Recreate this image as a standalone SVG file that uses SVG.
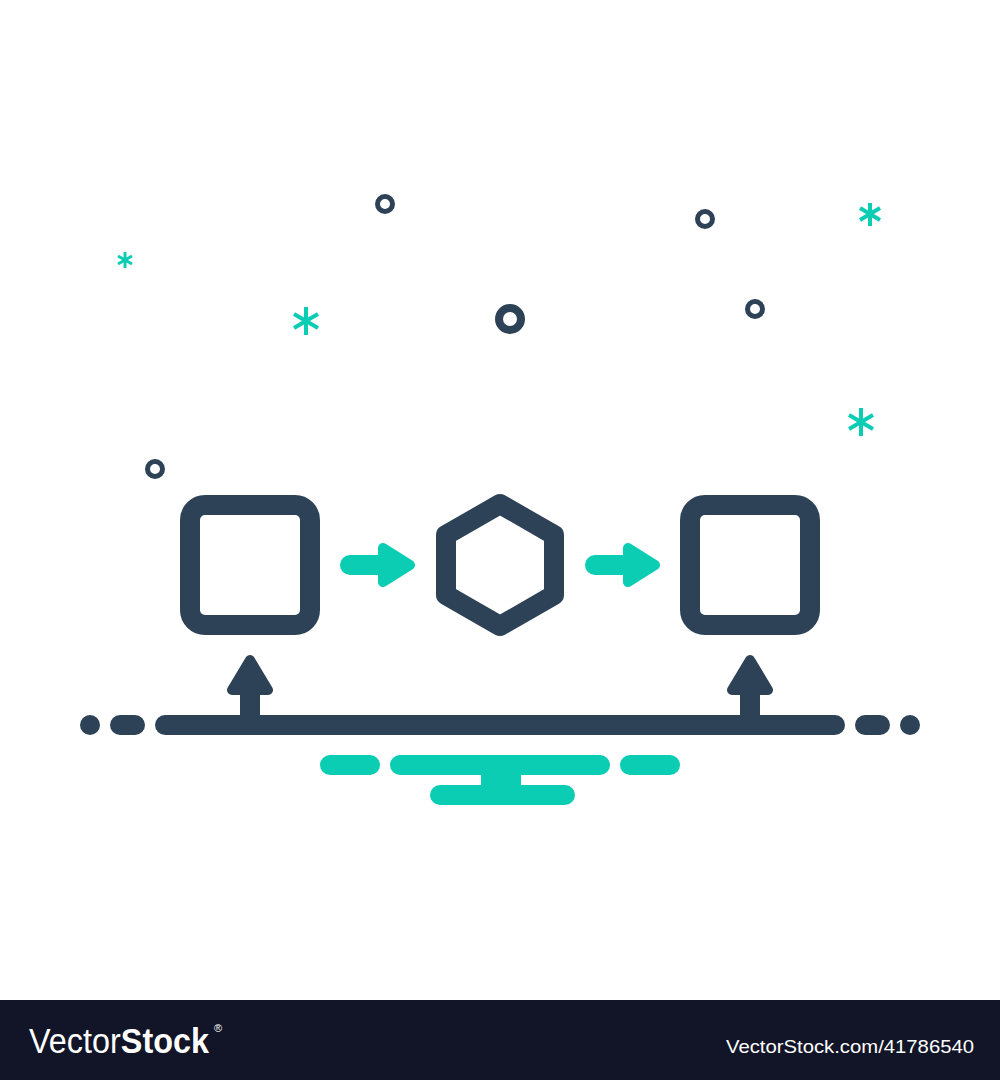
<svg xmlns="http://www.w3.org/2000/svg" width="1000" height="1080" viewBox="0 0 1000 1080">
  <style>
    .dk { fill: none; stroke: #2d4256; stroke-width: 20; stroke-linecap: round; stroke-linejoin: round; }
    .dkf { fill: #2d4256; stroke: #2d4256; stroke-width: 10; stroke-linejoin: round; }
    .tl { fill: none; stroke: #0bcdb3; stroke-width: 20; stroke-linecap: round; stroke-linejoin: round; }
    .tlf { fill: #0bcdb3; stroke: #0bcdb3; stroke-width: 10; stroke-linejoin: round; }
    .ring { fill: none; stroke: #2d4256; stroke-width: 5; }
    .ast { stroke: #0bcdb3; stroke-width: 4; stroke-linecap: butt; }
    .ft { font-family: "Liberation Sans", Arial, sans-serif; fill: #ffffff; }
  </style>
  <rect x="0" y="0" width="1000" height="1000" fill="#ffffff"/>

  <!-- decorations -->
  <g id="decor">
    <circle class="ring" cx="385" cy="204" r="7.5"/>
    <circle class="ring" cx="705" cy="219" r="7.5"/>
    <circle class="ring" cx="755" cy="309" r="7.5"/>
    <circle class="ring" cx="155" cy="469" r="7.5"/>
    <circle cx="510" cy="319" r="11" fill="none" stroke="#2d4256" stroke-width="8"/>
    <g class="ast">
      <line x1="125" y1="252" x2="125" y2="268" stroke-width="3"/>
      <line x1="118" y1="256" x2="132" y2="264" stroke-width="3"/>
      <line x1="118" y1="264" x2="132" y2="256" stroke-width="3"/>
      <line x1="306" y1="307" x2="306" y2="335"/>
      <line x1="294" y1="314" x2="318" y2="328"/>
      <line x1="294" y1="328" x2="318" y2="314"/>
      <line x1="870" y1="203" x2="870" y2="226"/>
      <line x1="860" y1="208" x2="880" y2="220"/>
      <line x1="860" y1="220" x2="880" y2="208"/>
      <line x1="861" y1="408" x2="861" y2="436"/>
      <line x1="849" y1="415" x2="873" y2="429"/>
      <line x1="849" y1="429" x2="873" y2="415"/>
    </g>
  </g>

  <!-- nodes -->
  <g id="node-square-left">
    <rect class="dk" x="190" y="505" width="120" height="120" rx="15"/>
  </g>
  <g id="node-hexagon">
    <polygon class="dk" points="500,504 554,535 554,595 500,626 446,595 446,535"/>
  </g>
  <g id="node-square-right">
    <rect class="dk" x="690" y="505" width="120" height="120" rx="15"/>
  </g>

  <!-- baseline -->
  <g id="baseline">
    <line class="dk" x1="90" y1="725" x2="90" y2="725"/>
    <line class="dk" x1="120" y1="725" x2="135" y2="725"/>
    <line class="dk" x1="165" y1="725" x2="835" y2="725"/>
    <line class="dk" x1="865" y1="725" x2="880" y2="725"/>
    <line class="dk" x1="910" y1="725" x2="910" y2="725"/>
  </g>

  <!-- base stand -->
  <g id="stand">
    <line class="tl" x1="330" y1="765" x2="370" y2="765"/>
    <line class="tl" x1="400" y1="765" x2="600" y2="765"/>
    <line class="tl" x1="630" y1="765" x2="670" y2="765"/>
    <rect x="481" y="770" width="40" height="20" fill="#0bcdb3"/>
    <line class="tl" x1="440" y1="795" x2="565" y2="795"/>
  </g>

  <!-- connectors -->
  <g id="connectors">
    <line class="tl" x1="350" y1="565" x2="390" y2="565"/>
    <polygon class="tlf" points="383,548 410,565 383,582"/>
    <line class="tl" x1="595" y1="565" x2="635" y2="565"/>
    <polygon class="tlf" points="628,548 655,565 628,582"/>
    <rect x="240" y="688" width="20" height="30" fill="#2d4256"/>
    <polygon class="dkf" points="250,660 268,690 232,690"/>
    <rect x="740" y="688" width="20" height="30" fill="#2d4256"/>
    <polygon class="dkf" points="750,660 768,690 732,690"/>
  </g>

  <!-- footer -->
  <g id="footer">
    <rect x="0" y="1000" width="1000" height="80" fill="#121427"/>
    <text class="ft" x="29" y="1053" font-size="35" textLength="180" lengthAdjust="spacingAndGlyphs"><tspan font-weight="normal">Vector</tspan><tspan font-weight="bold">Stock</tspan></text>
    <text class="ft" x="214" y="1032" font-size="11">®</text>
    <text class="ft" x="726" y="1053" font-size="19" textLength="248" lengthAdjust="spacingAndGlyphs">VectorStock.com/41786540</text>
  </g>
</svg>
